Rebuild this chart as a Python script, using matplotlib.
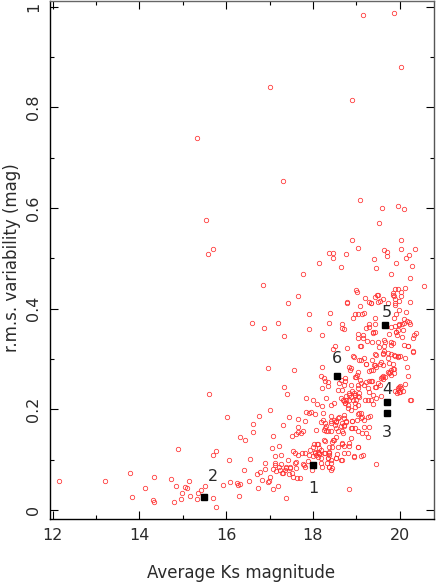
import matplotlib
matplotlib.use('Agg')
import matplotlib.pyplot as plt
from matplotlib.ticker import MultipleLocator

# (Ks mag, rms), grouped by region
bright = [(12.14,.058),(13.21,.058),(13.78,.073),(13.84,.025),(14.12,.044),(14.34,.066),(14.32,.019),(14.34,.016),
    (14.74,.062),(14.85,.048),(14.80,.015),(14.90,.122),(14.96,.021),(14.99,.034),(15.06,.046),(15.10,.043),
    (15.15,.057),(15.16,.027),(15.32,.021),(15.36,.034),(15.42,.040),(15.51,.048),(15.61,.230),(15.70,.023),
    (15.76,.006),(15.70,.109),(15.76,.117),(15.32,.740),(15.53,.577),(15.59,.508),(15.70,.518)]
high = [(19.15,.984),(19.86,.987),(20.02,.881),(17.00,.840),(18.90,.814),(17.31,.653),(19.08,.615),(19.60,.600),
    (19.97,.603),(20.10,.599),(19.53,.571),(18.91,.536),(20.03,.537),(19.03,.520),(19.64,.517),(20.03,.518),
    (20.35,.518),(18.38,.511),(18.46,.511),(18.76,.509),(19.70,.513),(19.70,.505),(20.22,.506),(20.15,.501),
    (18.47,.500),(19.41,.498),(19.91,.490),(18.14,.491),(18.65,.482),(19.45,.481),(20.29,.484),(17.76,.468),
    (19.79,.468),(20.23,.460),(16.84,.448),(20.57,.446),(19.90,.439),(19.97,.439),(20.12,.441),(18.99,.437)]
mid_left = [(15.93,.050),(16.09,.055),(16.24,.054),(16.28,.050),(16.33,.052),(16.30,.028),(16.53,.058),(16.42,.079),
    (16.06,.099),(16.55,.101),(16.02,.184),(16.32,.146),(16.43,.139),(16.62,.154),(16.63,.171),(16.76,.187),
    (17.00,.199),(16.60,.372),(16.87,.361),(17.19,.371),(17.34,.346),(17.42,.412),(17.65,.425),(17.91,.390),
    (17.92,.360),(16.97,.283),(17.56,.279),(17.33,.244),(17.40,.231),(17.85,.222),(18.00,.218),(18.30,.223),
    (18.22,.348),(18.36,.372),(18.40,.391),(18.78,.412)]
upper = [(19.01,.434),(19.21,.421),(19.29,.414),(19.34,.411),(19.47,.427),(19.51,.414),(19.55,.416),(19.62,.419),
    (19.84,.428),(19.87,.426),(19.89,.412),(19.99,.415),(20.23,.414),(20.04,.434),(19.08,.406),(19.72,.412),
    (19.99,.397),(20.15,.393),(18.98,.389),(19.03,.389),(19.13,.389),(19.18,.391),(18.92,.382),(19.44,.382),
    (19.91,.389),(19.87,.381),(20.10,.379),(20.17,.376),(20.21,.373),(19.98,.369),(20.05,.370),(19.81,.364),
    (19.95,.358),(19.30,.369),(19.43,.369),(19.30,.363),(19.42,.354),(19.39,.352),(18.67,.369),(18.68,.361),
    (18.71,.359),(19.03,.349),(19.04,.342),(19.15,.341),(19.24,.336),(19.36,.334),(19.49,.334),(19.63,.338),
    (19.76,.349),(19.91,.354),(19.93,.348),(20.05,.344),(20.30,.341),(20.33,.348),(20.37,.351),(19.80,.334),
    (19.84,.331),(19.80,.328),(19.64,.325),(19.53,.323),(19.08,.326),(19.11,.325),(18.51,.326),(18.46,.320),
    (18.78,.321),(19.42,.310),(19.45,.308),(19.62,.309),(19.64,.315),(19.72,.311),(19.80,.310),(19.87,.308),
    (19.95,.305),(20.10,.328),(20.19,.325),(20.30,.315),(18.94,.303),(19.07,.299),(19.17,.301),(19.37,.298),
    (19.57,.295),(19.76,.293),(20.01,.305),(20.16,.285),(19.22,.290),(19.41,.288),(18.88,.283),(18.85,.279),
    (19.34,.278),(19.30,.276),(19.80,.278),(19.86,.281),(19.72,.275),(19.87,.273),(19.76,.272)]
middle = [(18.20,.285),(18.18,.267),(18.25,.262),(18.28,.257),(18.35,.254),(18.22,.242),(18.35,.246),(18.61,.252),
    (18.72,.248),(18.58,.238),(19.01,.268),(18.97,.264),(19.08,.258),(19.30,.256),(19.36,.257),(19.57,.262),
    (19.60,.264),(19.62,.266),(19.49,.252),(19.45,.245),(19.30,.235),(20.18,.266),(19.99,.245),(19.97,.238),
    (20.07,.237),(19.93,.233),(20.01,.234),(20.25,.218),(19.18,.248),(19.03,.242),(18.90,.237),(18.84,.232),
    (18.76,.227),(18.88,.225),(18.97,.228),(19.03,.226),(18.74,.256),(18.87,.249),(19.04,.249),(19.11,.253),
    (18.68,.238),(18.94,.233),(19.07,.233),(20.13,.250),(18.77,.219),(18.84,.229),(18.96,.229),(18.92,.219),
    (19.00,.219),(18.96,.212),(18.69,.219),(18.73,.212),(18.81,.209),(19.04,.209),(19.07,.224),(19.19,.219),
    (19.27,.219),(19.34,.219),(19.38,.211),(19.46,.222),(19.57,.227),(19.38,.229),(19.00,.265),(19.04,.275),
    (18.73,.262),(18.65,.258),(19.23,.255),(19.34,.257),(19.27,.242),(19.42,.245),(19.54,.248),(19.61,.260),
    (19.65,.265),(19.77,.275),(19.84,.280),(19.80,.268),(19.54,.291),(19.42,.288),(19.46,.285),(19.38,.278),
    (19.23,.291),(19.11,.298),(18.84,.285),(18.92,.305),(19.15,.348),(19.38,.354),(19.23,.361)]
lower = [(18.10,.211),(18.21,.207),(18.41,.209),(18.48,.213),(18.65,.222),(18.71,.217),(18.75,.212),(18.84,.219),
    (18.98,.205),(18.81,.202),(18.87,.199),(17.85,.195),(17.91,.192),(17.96,.194),(18.04,.190),(18.23,.192),
    (17.65,.181),(17.46,.185),(17.81,.176),(17.32,.168),(18.42,.186),(18.58,.182),(18.71,.182),(18.77,.176),
    (19.07,.192),(19.14,.184),(19.18,.179),(19.01,.179),(18.91,.176),(19.27,.184),(18.23,.179),(18.19,.174),
    (18.27,.172),(18.42,.176),(18.54,.176),(18.52,.169),(18.68,.172),(18.71,.166),(18.54,.162),(18.65,.166),
    (18.88,.162),(18.98,.162),(19.04,.156),(19.14,.152),(19.23,.152),(19.29,.164),(19.17,.164),(18.08,.159),
    (18.27,.162),(18.31,.156),(18.42,.156),(18.58,.156),(18.69,.152),(17.77,.156),(17.73,.152),(17.65,.154),
    (17.60,.150),(17.52,.148),(17.08,.147),(17.22,.128),(17.06,.124),(17.27,.109),(17.12,.107),(17.55,.118),
    (17.58,.113),(17.65,.109),(17.75,.113),(17.81,.114),(18.09,.132),(18.00,.126),(18.27,.138),(18.15,.123),
    (18.46,.139),(18.68,.134),(18.84,.134),(18.88,.144),(18.71,.127),(18.82,.127),(19.05,.125),(19.27,.146),
    (18.04,.116),(18.15,.113),(18.27,.114),(17.92,.109),(18.00,.107),(18.12,.106),(18.19,.103),(18.38,.116),
    (18.38,.109),(18.35,.103),(18.56,.111),(18.65,.099),(18.54,.103),(18.94,.107),(19.15,.109),(17.42,.099),
    (17.27,.091),(17.12,.089),(17.58,.093),(17.62,.096),(17.77,.091),(18.19,.093),(18.32,.093),(18.41,.093),
    (18.38,.086),(18.21,.085),(18.45,.083),(17.39,.083),(17.48,.085),(17.81,.085),(17.22,.085)]
lower_extra = [(18.05,.113),(18.08,.109),(18.11,.115),(18.18,.119),(18.26,.113),(18.38,.113),(18.45,.126),(18.49,.139),
    (18.38,.126),(18.45,.136),(18.57,.126),(18.68,.131),(18.71,.113),(18.80,.113),(18.53,.103),(18.68,.099),
    (18.41,.099),(18.34,.103),(18.15,.111),(17.94,.119),(18.03,.132),(18.11,.132),(18.26,.139),(18.53,.146),
    (18.68,.156),(18.71,.169),(18.76,.175),(18.53,.175),(18.30,.166),(18.26,.159),(18.34,.156),(18.41,.172),
    (18.49,.179),(18.61,.185),(18.72,.189),(18.91,.162),(19.03,.191),(19.11,.192),(19.11,.182),(18.91,.177),
    (19.32,.187),(17.66,.164)]
faint = [(17.99,.079),(18.41,.079),(18.36,.086),(18.84,.042),(17.38,.023),(19.45,.091),(19.11,.108),(18.94,.106),
    (19.04,.125),(16.89,.094),(16.71,.071),(16.79,.076),(16.90,.081),(17.02,.066),(16.99,.058),(16.96,.055),
    (16.82,.060),(16.73,.043),(17.08,.042),(17.20,.047),(17.07,.081),(17.12,.093),(17.15,.078),(17.25,.079),
    (17.30,.074),(17.38,.086),(17.45,.072),(17.51,.074),(17.55,.066),(17.63,.063),(17.71,.064),(17.61,.083),
    (17.48,.083),(17.80,.089),(17.88,.098),(17.28,.073),(17.35,.079)]
right_edge = [(20.19,.326),(20.30,.313),(20.13,.301),(20.00,.246),(19.96,.242),(20.04,.242),(19.90,.236),(19.98,.235),
    (20.24,.219),(20.07,.358),(19.92,.354),(19.99,.368),(20.11,.371),(20.23,.370),(19.88,.366),(19.49,.427),
    (19.44,.423),(19.33,.412),(18.79,.413),(19.89,.419),(19.85,.431),(20.02,.425),(19.89,.407),(19.88,.305),
    (19.96,.303),(19.84,.291),(19.73,.301),(19.61,.288),(19.61,.311),(19.65,.334)]

# numbered sources: mag, rms, label, label mag, label rms
src_mag = [18.00,15.50,19.70,19.70,19.66,18.56]
src_rms = [.090,.025,.193,.214,.367,.267]
src_names = ["1","2","3","4","5","6"]
label_mag = [18.00,15.70,19.71,19.71,19.71,18.55]
label_rms = [.042,.066,.153,.240,.393,.300]

points = bright + high + mid_left + upper + middle + lower + lower_extra + faint + right_edge
xs = [p[0] for p in points]
ys = [p[1] for p in points]

plt.rcParams['font.family'] = 'DejaVu Sans'
ink = "#2a2a2a"

fig = plt.figure(figsize=(4.36,5.83), dpi=100)
ax = fig.add_axes([49.5/436, 1-519.3/583, (434-49.5)/436, (519.3-1)/583])

ax.plot(xs, ys, linestyle="None", marker='o', markersize=3.2, markerfacecolor="none",
        markeredgecolor="#ff3030", markeredgewidth=0.55)
ax.plot(src_mag, src_rms, linestyle="None", marker='s', markersize=4.6, color="black")
for i in range(len(src_names)):
    ax.text(label_mag[i], label_rms[i], src_names[i], fontsize=11.5, color=ink, ha="center", va="center")

ax.set_xlim(11.93, 20.79)
ax.set_ylim(-0.0185, 1.0113)
ax.xaxis.set_major_locator(MultipleLocator(2))
ax.xaxis.set_minor_locator(MultipleLocator(1))
ax.yaxis.set_major_locator(MultipleLocator(0.2))
ax.yaxis.set_minor_locator(MultipleLocator(0.1))
ax.set_yticks([0,0.2,0.4,0.6,0.8,1.0], ["0","0.2","0.4","0.6","0.8","1"])
ax.tick_params(which="major", direction="in", length=6, width=0.8, top=True, right=True,
               labelsize=11.5, labelcolor=ink, pad=6)
ax.tick_params(which="minor", direction="in", length=3.2, width=0.8, top=True, right=True)
plt.setp(ax.get_yticklabels(), rotation=90, va="center")
ax.set_xlabel("Average Ks magnitude", fontsize=12, color=ink)
ax.set_ylabel("r.m.s. variability (mag)", fontsize=12, color=ink)
ax.xaxis.set_label_coords((241.5-49.5)/384.5, (519.3-573)/518.3, transform=ax.transAxes)
ax.yaxis.set_label_coords((12-49.5)/384.5, (519.3-258)/518.3, transform=ax.transAxes)
ax.xaxis.label.set_va("center")
ax.yaxis.label.set_va("center")

ax.spines["top"].set_color("#666666")
ax.spines["right"].set_color("#555555")
for s in ax.spines.values():
    s.set_linewidth(1.0)

plt.savefig("out.png", dpi=100)
plt.close()
